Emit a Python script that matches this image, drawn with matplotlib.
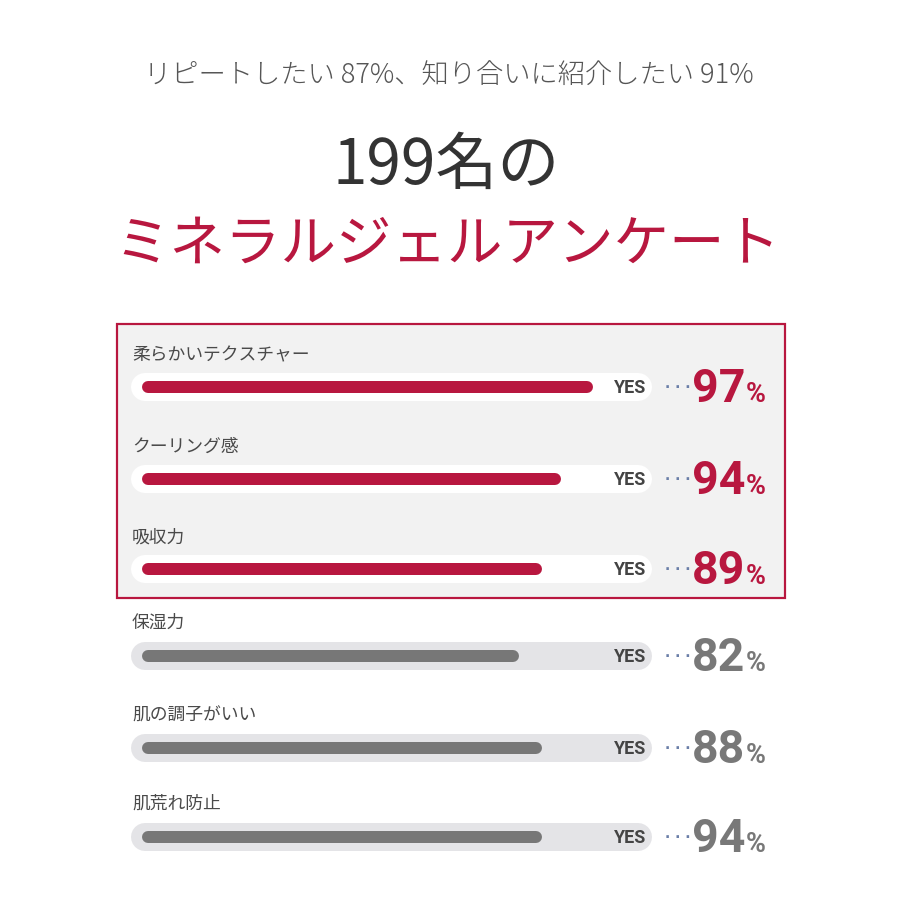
import matplotlib
matplotlib.use("Agg")
import matplotlib.pyplot as plt
from matplotlib.patches import Rectangle

plt.rcParams['font.family'] = ['Noto Sans CJK JP', 'DejaVu Sans']

# ---- data ----
subtitle = "リピートしたい 87%、知り合いに紹介したい 91%"
title_line1 = "199名の"
title_line2 = "ミネラルジェルアンケート"
categories = ["柔らかいテクスチャー", "クーリング感", "吸収力", "保湿力", "肌の調子がいい", "肌荒れ防止"]
percentages = [97, 94, 89, 82, 88, 94]
bar_fill = [97, 90, 86, 81, 86, 86]          # drawn fill length
highlighted = [True, True, True, False, False, False]
answer_label = "YES"

# ---- style ----
RED = "#b8173f"
GRAY_BAR = "#777777"
GRAY_NUM = "#787878"
TRACK_OUT = "#e4e4e7"
BOX_FACE = "#f2f2f2"
TXT = "#4a4a4a"
DOTS = "#6b7fa8"
PX = 0.72  # points per pixel at dpi 100
NUMFONT = ["Roboto", "DejaVu Sans"]

label_y = [355, 447, 537, 623, 716, 804]
track_y = [387, 479, 569, 656, 748, 837]

fig = plt.figure(figsize=(9, 9), dpi=100)
fig.patch.set_facecolor("white")
ax = fig.add_axes([0, 0, 1, 1])
ax.set_xlim(0, 900)
ax.set_ylim(900, 0)
ax.axis("off")

# titles
ax.text(449, 76, subtitle, ha="center", va="center", fontsize=27.3 * PX,
        color="#555555", fontweight="light")
ax.text(446, 166, title_line1, ha="center", va="center", fontsize=62 * PX,
        color="#333333")
ax.text(447, 245, title_line2, ha="center", va="center", fontsize=55.5 * PX,
        color=RED)

# highlight box
ax.add_patch(Rectangle((117, 324), 668, 274, facecolor=BOX_FACE, edgecolor=RED,
                       linewidth=2.2 * PX, zorder=1))

# bar axes: x in percent units
x0_px, scale = 142, 4.65
axb = fig.add_axes([x0_px / 900, 0, 100 * scale / 900, 1])
axb.set_xlim(0, 100)
axb.set_ylim(900, 0)
axb.axis("off")
axb.patch.set_alpha(0)
axb.set_zorder(2)

cap = 6 / scale
for i, (cat, pct, fill, hl) in enumerate(zip(categories, percentages, bar_fill, highlighted)):
    ly, ty = label_y[i], track_y[i]
    col = RED if hl else GRAY_BAR
    ncol = RED if hl else GRAY_NUM
    # label
    ax.text(132, ly, cat, ha="left", va="center", fontsize=17.8 * PX, color=TXT, zorder=3)
    # track
    ax.plot([131 + 14, 652 - 14], [ty, ty], color="white" if hl else TRACK_OUT,
            linewidth=28 * PX, solid_capstyle="round", zorder=2)
    # fill
    axb.plot([cap, fill - cap], [ty, ty], color=col, linewidth=12 * PX,
             solid_capstyle="round", zorder=3)
    # YES
    ax.text(646, ty + 1, answer_label, ha="right", va="center", fontsize=18 * PX,
            color="#444444", fontweight="bold", family=NUMFONT, zorder=3)
    # dots
    ax.text(678, ty + 1, "· · ·", ha="center", va="center", fontsize=14 * PX,
            color=DOTS, fontweight="bold", family="DejaVu Sans", zorder=3)
    # number
    ax.text(745, ty + 15, f"{pct}", ha="right", va="baseline", fontsize=46.5 * PX,
            color=ncol, fontweight="bold", family=NUMFONT, zorder=3)
    ax.text(745.5, ty + 15, "%", ha="left", va="baseline", fontsize=27 * PX,
            color=ncol, fontweight="bold", family=NUMFONT, zorder=3)

fig.savefig("out.png", dpi=100, facecolor="white")
